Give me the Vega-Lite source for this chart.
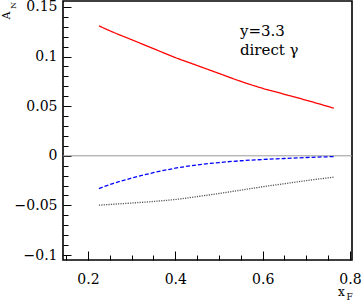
{
  "$schema": "https://vega.github.io/schema/vega-lite/v6.json",
  "width": 289,
  "height": 259,
  "autosize": {"type": "none"},
  "padding": {"left": 63, "top": 1, "right": 9, "bottom": 43},
  "config": {
    "view": {"stroke": "black", "strokeWidth": 1.6},
    "font": "DejaVu Serif",
    "axis": {
      "domain": false, "grid": false,
      "labelFont": "DejaVu Serif", "titleFont": "DejaVu Serif",
      "labelColor": "black", "titleColor": "black", "tickColor": "black",
      "titleFontWeight": "normal", "labelFontSize": 14
    }
  },
  "datasets": {
    "curves": [
      {"x": 0.225, "y": 0.131, "s": "red"}, {"x": 0.25, "y": 0.126, "s": "red"},
      {"x": 0.3, "y": 0.117, "s": "red"}, {"x": 0.35, "y": 0.108, "s": "red"},
      {"x": 0.4, "y": 0.099, "s": "red"}, {"x": 0.45, "y": 0.091, "s": "red"},
      {"x": 0.5, "y": 0.083, "s": "red"}, {"x": 0.55, "y": 0.075, "s": "red"},
      {"x": 0.6, "y": 0.068, "s": "red"}, {"x": 0.65, "y": 0.062, "s": "red"},
      {"x": 0.7, "y": 0.056, "s": "red"}, {"x": 0.763, "y": 0.048, "s": "red"},
      {"x": 0.225, "y": -0.033, "s": "blue"}, {"x": 0.25, "y": -0.029, "s": "blue"},
      {"x": 0.3, "y": -0.0225, "s": "blue"}, {"x": 0.35, "y": -0.017, "s": "blue"},
      {"x": 0.4, "y": -0.0125, "s": "blue"}, {"x": 0.45, "y": -0.0092, "s": "blue"},
      {"x": 0.5, "y": -0.0068, "s": "blue"}, {"x": 0.55, "y": -0.005, "s": "blue"},
      {"x": 0.6, "y": -0.0037, "s": "blue"}, {"x": 0.65, "y": -0.0027, "s": "blue"},
      {"x": 0.7, "y": -0.0017, "s": "blue"}, {"x": 0.763, "y": -0.0008, "s": "blue"},
      {"x": 0.225, "y": -0.0497, "s": "gray"}, {"x": 0.3, "y": -0.0476, "s": "gray"},
      {"x": 0.35, "y": -0.0460, "s": "gray"}, {"x": 0.4, "y": -0.0440, "s": "gray"},
      {"x": 0.45, "y": -0.0411, "s": "gray"}, {"x": 0.5, "y": -0.0380, "s": "gray"},
      {"x": 0.55, "y": -0.0346, "s": "gray"}, {"x": 0.6, "y": -0.0312, "s": "gray"},
      {"x": 0.65, "y": -0.0281, "s": "gray"}, {"x": 0.7, "y": -0.0250, "s": "gray"},
      {"x": 0.763, "y": -0.0215, "s": "gray"}
    ],
    "notes": [
      {"x": 0.548, "y": 0.121, "t": "y=3.3"},
      {"x": 0.548, "y": 0.102, "t": "direct γ"}
    ],
    "zero": [{"z": 0}]
  },
  "resolve": {"axis": {"x": "independent", "y": "independent"}},
  "layer": [
    {
      "data": {"name": "zero"},
      "mark": {"type": "rule", "color": "#999999", "strokeWidth": 1},
      "encoding": {
        "y": {"field": "z", "type": "quantitative", "scale": {"domain": [-0.105, 0.156], "nice": false, "zero": false}, "axis": null}
      }
    },
    {
      "data": {"name": "curves"},
      "mark": {"type": "line", "strokeWidth": 1.3, "interpolate": "monotone"},
      "encoding": {
        "x": {"field": "x", "type": "quantitative", "scale": {"domain": [0.1428, 0.8046], "nice": false, "zero": false},
          "axis": {"orient": "bottom", "values": [0.2, 0.4, 0.6, 0.8], "tickSize": -9, "labelPadding": 21, "format": ".1~f",
            "title": "x", "titleFontSize": 12, "titleX": 278, "titleY": 35, "titleAlign": "center", "titleBaseline": "alphabetic"}},
        "y": {"field": "y", "type": "quantitative", "scale": {"domain": [-0.105, 0.156], "nice": false, "zero": false},
          "axis": {"orient": "left", "values": [-0.1, -0.05, 0, 0.05, 0.1, 0.15], "tickSize": -8, "labelPadding": 14, "format": "~g",
            "title": "A", "titleFontSize": 11, "titleAngle": -90, "titleX": -54, "titleY": 14, "titleAlign": "center", "titleBaseline": "alphabetic"}},
        "color": {"field": "s", "type": "nominal", "legend": null,
          "scale": {"domain": ["red", "blue", "gray"], "range": ["#ff0000", "#0000ff", "#555555"]}},
        "strokeDash": {"field": "s", "type": "nominal", "legend": null,
          "scale": {"domain": ["red", "blue", "gray"], "range": [[1, 0], [4, 2], [1.2, 1.2]]}}
      }
    },
    {
      "data": {"name": "notes"},
      "mark": {"type": "text", "font": "DejaVu Serif", "fontSize": 15, "align": "left", "baseline": "alphabetic", "color": "black"},
      "encoding": {
        "x": {"field": "x", "type": "quantitative", "scale": {"domain": [0.1428, 0.8046], "nice": false, "zero": false},
          "axis": {"orient": "bottom", "values": [0.15, 0.25, 0.3, 0.35, 0.45, 0.5, 0.55, 0.65, 0.7, 0.75], "tickSize": -5, "labels": false,
            "title": "F", "titleFontSize": 9, "titleX": 286, "titleY": 39, "titleAlign": "center", "titleBaseline": "alphabetic"}},
        "y": {"field": "y", "type": "quantitative", "scale": {"domain": [-0.105, 0.156], "nice": false, "zero": false},
          "axis": {"orient": "left", "values": [-0.1, -0.09, -0.08, -0.07, -0.06, -0.04, -0.03, -0.02, -0.01, 0.01, 0.02, 0.03, 0.04, 0.06, 0.07, 0.08, 0.09, 0.11, 0.12, 0.13, 0.14], "tickSize": -5, "labels": false,
            "title": "N", "titleFontSize": 8, "titleAngle": -90, "titleX": -48, "titleY": 4, "titleAlign": "center", "titleBaseline": "alphabetic"}},
        "text": {"field": "t", "type": "nominal"}
      }
    }
  ]
}
